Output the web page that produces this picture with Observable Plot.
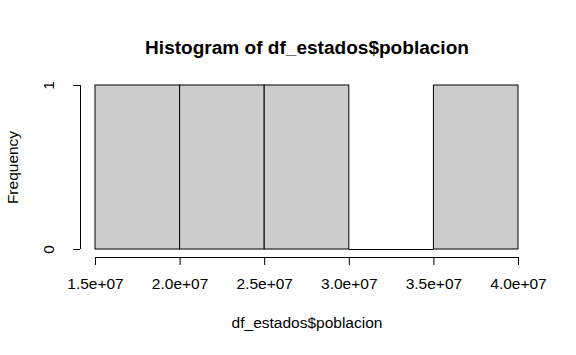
<!DOCTYPE html>
<html>
<head>
<meta charset="utf-8">
<script src="https://cdn.jsdelivr.net/npm/d3@7"></script>
<script src="https://cdn.jsdelivr.net/npm/@observablehq/plot@0.6"></script>
<style>
  body { margin: 0; background: #fff; }
  svg { overflow: visible; }
  svg text { font-family: "Liberation Sans", Arial, Helvetica, sans-serif; }
</style>
</head>
<body>
<div id="chart"></div>
<script>
const binStart = [1.5e7, 2.0e7, 2.5e7, 3.0e7, 3.5e7];
const binEnd   = [2.0e7, 2.5e7, 3.0e7, 3.5e7, 4.0e7];
const counts   = [1, 1, 1, 0, 1];
const xTicks = [1.5e7, 2.0e7, 2.5e7, 3.0e7, 3.5e7, 4.0e7];
const yTicks = [0, 1];
const title = "Histogram of df_estados$poblacion";
const xLabel = "df_estados$poblacion";
const yLabel = "Frequency";

const bins = binStart.map((s, i) => ({x1: s, x2: binEnd[i], count: counts[i]}));
const fmt = d => {
  const [m, e] = d.toExponential(1).split("e");
  return m + "e" + e[0] + e.slice(1).padStart(2, "0");
};
const font = "'Liberation Sans', Arial, Helvetica, sans-serif";
const base = 15.5;

const chart = Plot.plot({
  width: 576,
  height: 355,
  marginLeft: 95,
  marginRight: 58,
  marginTop: 85,
  marginBottom: 106,
  style: {fontFamily: font, fontSize: base + "px", background: "white", color: "black"},
  x: {domain: [xTicks[0], xTicks[xTicks.length - 1]], axis: null},
  y: {domain: [yTicks[0], yTicks[yTicks.length - 1]], axis: null},
  marks: [
    Plot.rect(bins.filter(d => d.count > 0), {x1: "x1", x2: "x2", y1: 0, y2: "count", fill: "#cccccc", stroke: "black", strokeWidth: 1}),
    Plot.ruleY(bins.filter(d => d.count === 0), {x1: "x1", x2: "x2", y: "count", stroke: "black", strokeWidth: 1}),
    // x axis
    Plot.ruleY([0], {x1: xTicks[0], x2: xTicks[xTicks.length - 1], dy: 8, stroke: "black"}),
    Plot.axisX({ticks: xTicks, anchor: "bottom", tickSize: 8, dy: 8, tickPadding: 12, tickFormat: fmt, fontSize: base, label: null, stroke: "black", fill: "black"}),
    // y axis
    Plot.ruleX([xTicks[0]], {y1: yTicks[0], y2: yTicks[yTicks.length - 1], dx: -15, stroke: "black"}),
    Plot.axisY({ticks: yTicks, anchor: "left", tickSize: 7, dx: -15, tickFormat: () => "", label: null, stroke: "black"}),
    Plot.text(yTicks, {y: d => d, text: d => String(d), frameAnchor: "left", textAnchor: "middle", dx: -46, rotate: -90, fontSize: base, fill: "black"}),
    // labels
    Plot.text([title], {frameAnchor: "top", dy: -45, fontSize: base * 1.23, fontWeight: "bold", fill: "black"}),
    Plot.text([xLabel], {frameAnchor: "bottom", dy: 78, fontSize: base, fill: "black"}),
    Plot.text([yLabel], {frameAnchor: "left", textAnchor: "middle", dx: -82, rotate: -90, fontSize: base, fill: "black"})
  ]
});
document.getElementById("chart").appendChild(chart);
</script>
</body>
</html>
